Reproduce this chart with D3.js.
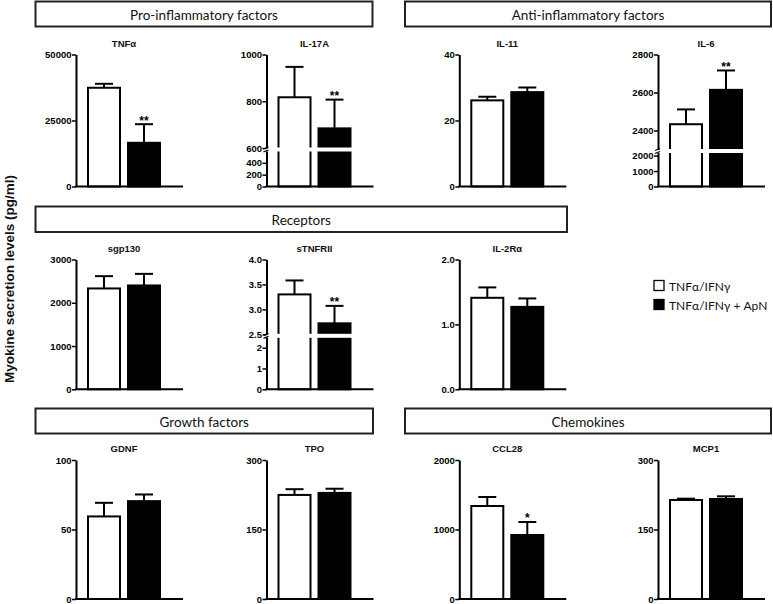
<!DOCTYPE html>
<html>
<head>
<meta charset="utf-8">
<script src="https://cdn.jsdelivr.net/npm/d3@7/dist/d3.min.js"></script>
<style>
  html, body { margin: 0; padding: 0; background: #fff; }
  svg { display: block; }
</style>
</head>
<body>
<svg id="chart" width="773" height="604"></svg>
<script>
// ---------------- DATA ----------------
const groups = ["TNFα/IFNγ", "TNFα/IFNγ + ApN"];
const panelNames = ["TNFα", "IL-17A", "IL-11", "IL-6", "sgp130", "sTNFRII", "IL-2Rα", "GDNF", "TPO", "CCL28", "MCP1"];
const controlMean = [37400, 817, 26.1, 2433, 2331, 3.30, 1.41, 59.4, 224.6, 1338, 213.7];
const controlSem  = [1500, 130, 1.1, 78, 284, 0.28, 0.16, 9.8, 12.4, 130, 2.8];
const apnMean     = [16550, 684, 28.6, 2614, 2400, 2.72, 1.27, 70.4, 229, 921, 215.8];
const apnSem      = [7050, 123, 1.4, 102, 268, 0.35, 0.13, 4.8, 9, 187, 5.8];
const significance = ["**", "**", "", "**", "", "**", "", "", "", "*", ""];
// axis domains: one segment, or [lower, upper] for broken axes
const yDomains = [
  [[0, 50000]],
  [[0, 600], [600, 1000]],
  [[0, 40]],
  [[0, 2200], [2300, 2800]],
  [[0, 3000]],
  [[0, 2.5], [2.5, 4.0]],
  [[0, 2]],
  [[0, 100]],
  [[0, 300]],
  [[0, 2000]],
  [[0, 300]]
];
const yTicks = [
  [[0, 25000, 50000]],
  [[0, 200, 400], [600, 800, 1000]],
  [[0, 20, 40]],
  [[0, 1000, 2000], [2400, 2600, 2800]],
  [[0, 1000, 2000, 3000]],
  [[0, 1, 2], [2.5, 3.0, 3.5, 4.0]],
  [[0, 1, 2]],
  [[0, 50, 100]],
  [[0, 150, 300]],
  [[0, 1000, 2000]],
  [[0, 150, 300]]
];
const yTickFormats = [["d"], ["d", "d"], ["d"], ["d", "d"], ["d"], ["d", ".1f"], [".1f"], ["d"], ["d"], ["d"], ["d"]];
const sectionTitles = ["Pro-inflammatory factors", "Anti-inflammatory factors", "Receptors", "Growth factors", "Chemokines"];
const yAxisTitle = "Myokine secretion levels (pg/ml)";

// ---------------- LAYOUT ----------------
const colX = [76, 266.5, 459.3, 658];
const rowTop = [54.5, 259.5, 460];
const rowBottom = [186.5, 389.3, 599];
const panelCell = [[0,0],[1,0],[2,0],[3,0],[0,1],[1,1],[2,1],[0,2],[1,2],[2,2],[3,2]];
const lowerPx = [0, 35.5, 0, 34, 0, 52, 0, 0, 0, 0, 0]; // height of lower segment for broken axes
const breakGap = 3;
const sectionBoxes = [
  [35.5, 1.5, 372.5, 26.5],
  [405, 1.5, 771, 26.5],
  [35.5, 206.5, 567, 232],
  [35.5, 408.5, 373, 433.5],
  [405, 408.5, 771, 433.5]
];
const tickFont = "bold 9.5px 'Liberation Sans', Arial, sans-serif";
const lw = 2;

const svg = d3.select("#chart");

// Section header boxes
sectionTitles.forEach((t, i) => {
  const [x0, y0, x1, y1] = sectionBoxes[i];
  svg.append("rect").attr("x", x0).attr("y", y0).attr("width", x1 - x0).attr("height", y1 - y0)
    .attr("fill", "#fff").attr("stroke", "#222").attr("stroke-width", 2);
  svg.append("text").attr("x", (x0 + x1) / 2).attr("y", (y0 + y1) / 2 + 0.5)
    .attr("text-anchor", "middle").attr("dominant-baseline", "central")
    .style("font", "13.5px Lato, 'Open Sans', sans-serif").attr("fill", "#111").text(t);
});

// Y axis title
svg.append("text")
  .attr("transform", "translate(14,279) rotate(-90)")
  .attr("text-anchor", "middle")
  .style("font", "bold 13.5px 'Liberation Sans', Arial, sans-serif")
  .attr("fill", "#111")
  .text(yAxisTitle);

// Panels
panelNames.forEach((name, i) => {
  const [c, r] = panelCell[i];
  const x0 = colX[c];
  const top = rowTop[r], bottom = rowBottom[r];
  const g = svg.append("g");

  const segs = yDomains[i];
  let scales;
  if (segs.length === 1) {
    scales = [d3.scaleLinear().domain(segs[0]).range([bottom, top])];
  } else {
    const lowTop = bottom - lowerPx[i];
    scales = [
      d3.scaleLinear().domain(segs[0]).range([bottom, lowTop]),
      d3.scaleLinear().domain(segs[1]).range([lowTop - breakGap, top])
    ];
  }
  const y = v => {
    if (scales.length === 1) return scales[0](v);
    return v <= segs[0][1] ? scales[0](v) : scales[1](Math.max(v, segs[1][0]));
  };

  const xb = d3.scaleBand().domain(groups).range([x0 + 6, x0 + 90]).paddingInner(0.2).paddingOuter(0.15);
  const means = [controlMean[i], apnMean[i]];
  const sems = [controlSem[i], apnSem[i]];

  // bars
  groups.forEach((grp, k) => {
    g.append("rect")
      .attr("x", xb(grp)).attr("y", y(means[k]))
      .attr("width", xb.bandwidth()).attr("height", bottom - y(means[k]))
      .attr("fill", k === 0 ? "#fff" : "#000")
      .attr("stroke", "#000").attr("stroke-width", lw);
  });

  // gap through bars for broken axes
  if (scales.length === 2) {
    const gy0 = scales[1].range()[0] - 0.5;
    const gy1 = scales[0].range()[1] + 0.5;
    groups.forEach(grp => {
      g.append("rect").attr("x", xb(grp) - 2).attr("y", gy0)
        .attr("width", xb.bandwidth() + 4).attr("height", gy1 - gy0).attr("fill", "#fff");
    });
  }

  // error bars (upper only)
  groups.forEach((grp, k) => {
    const cx = xb(grp) + xb.bandwidth() / 2;
    const yTop = y(means[k] + sems[k]);
    g.append("line").attr("x1", cx).attr("x2", cx).attr("y1", y(means[k])).attr("y2", yTop)
      .attr("stroke", "#000").attr("stroke-width", lw);
    g.append("line").attr("x1", cx - 9).attr("x2", cx + 9).attr("y1", yTop).attr("y2", yTop)
      .attr("stroke", "#000").attr("stroke-width", lw);
    if (k === 1 && significance[i]) {
      g.append("text").attr("x", cx).attr("y", yTop + 0.5)
        .attr("text-anchor", "middle")
        .style("font", "bold 12px 'Liberation Sans', Arial, sans-serif")
        .attr("fill", "#000").text(significance[i]);
    }
  });

  // y axis segments
  scales.forEach((s, si) => {
    const ax = d3.axisLeft(s).tickValues(yTicks[i][si]).tickSize(4).tickSizeOuter(0)
      .tickFormat(d3.format(yTickFormats[i][si]));
    const ag = g.append("g").attr("transform", `translate(${x0},0)`).call(ax);
    ag.select(".domain").attr("stroke", "#000").attr("stroke-width", lw);
    ag.selectAll(".tick line").attr("stroke", "#000").attr("stroke-width", 1.5);
    ag.selectAll(".tick text").attr("x", -4.5).style("font", tickFont).attr("fill", "#000");
  });
  if (scales.length === 2) {
    const ya = scales[1].range()[0], yb = scales[0].range()[1];
    [ya, yb].forEach(yy => {
      g.append("line").attr("x1", x0 - 3).attr("x2", x0 + 2).attr("y1", yy + 1).attr("y2", yy - 1)
        .attr("stroke", "#000").attr("stroke-width", 1.3);
    });
  }

  // baseline
  g.append("line").attr("x1", x0 - 1).attr("x2", x0 + 107).attr("y1", bottom).attr("y2", bottom)
    .attr("stroke", "#000").attr("stroke-width", lw);

  // title
  g.append("text").attr("x", x0 + 48).attr("y", top - 8)
    .attr("text-anchor", "middle")
    .style("font", "bold 9.5px 'Liberation Sans', Arial, sans-serif").attr("fill", "#111").text(name);
});

// Legend
const legX = 654, legY = [280.5, 299.5];
groups.forEach((grp, k) => {
  svg.append("rect").attr("x", legX).attr("y", legY[k]).attr("width", 10).attr("height", 10)
    .attr("fill", k === 0 ? "#fff" : "#000").attr("stroke", "#000").attr("stroke-width", 1.3);
  svg.append("text").attr("x", legX + 15).attr("y", legY[k] + 5.5)
    .attr("dominant-baseline", "central")
    .style("font", "12px Lato, 'Open Sans', sans-serif").attr("fill", "#111").text(grp);
});
</script>
</body>
</html>
